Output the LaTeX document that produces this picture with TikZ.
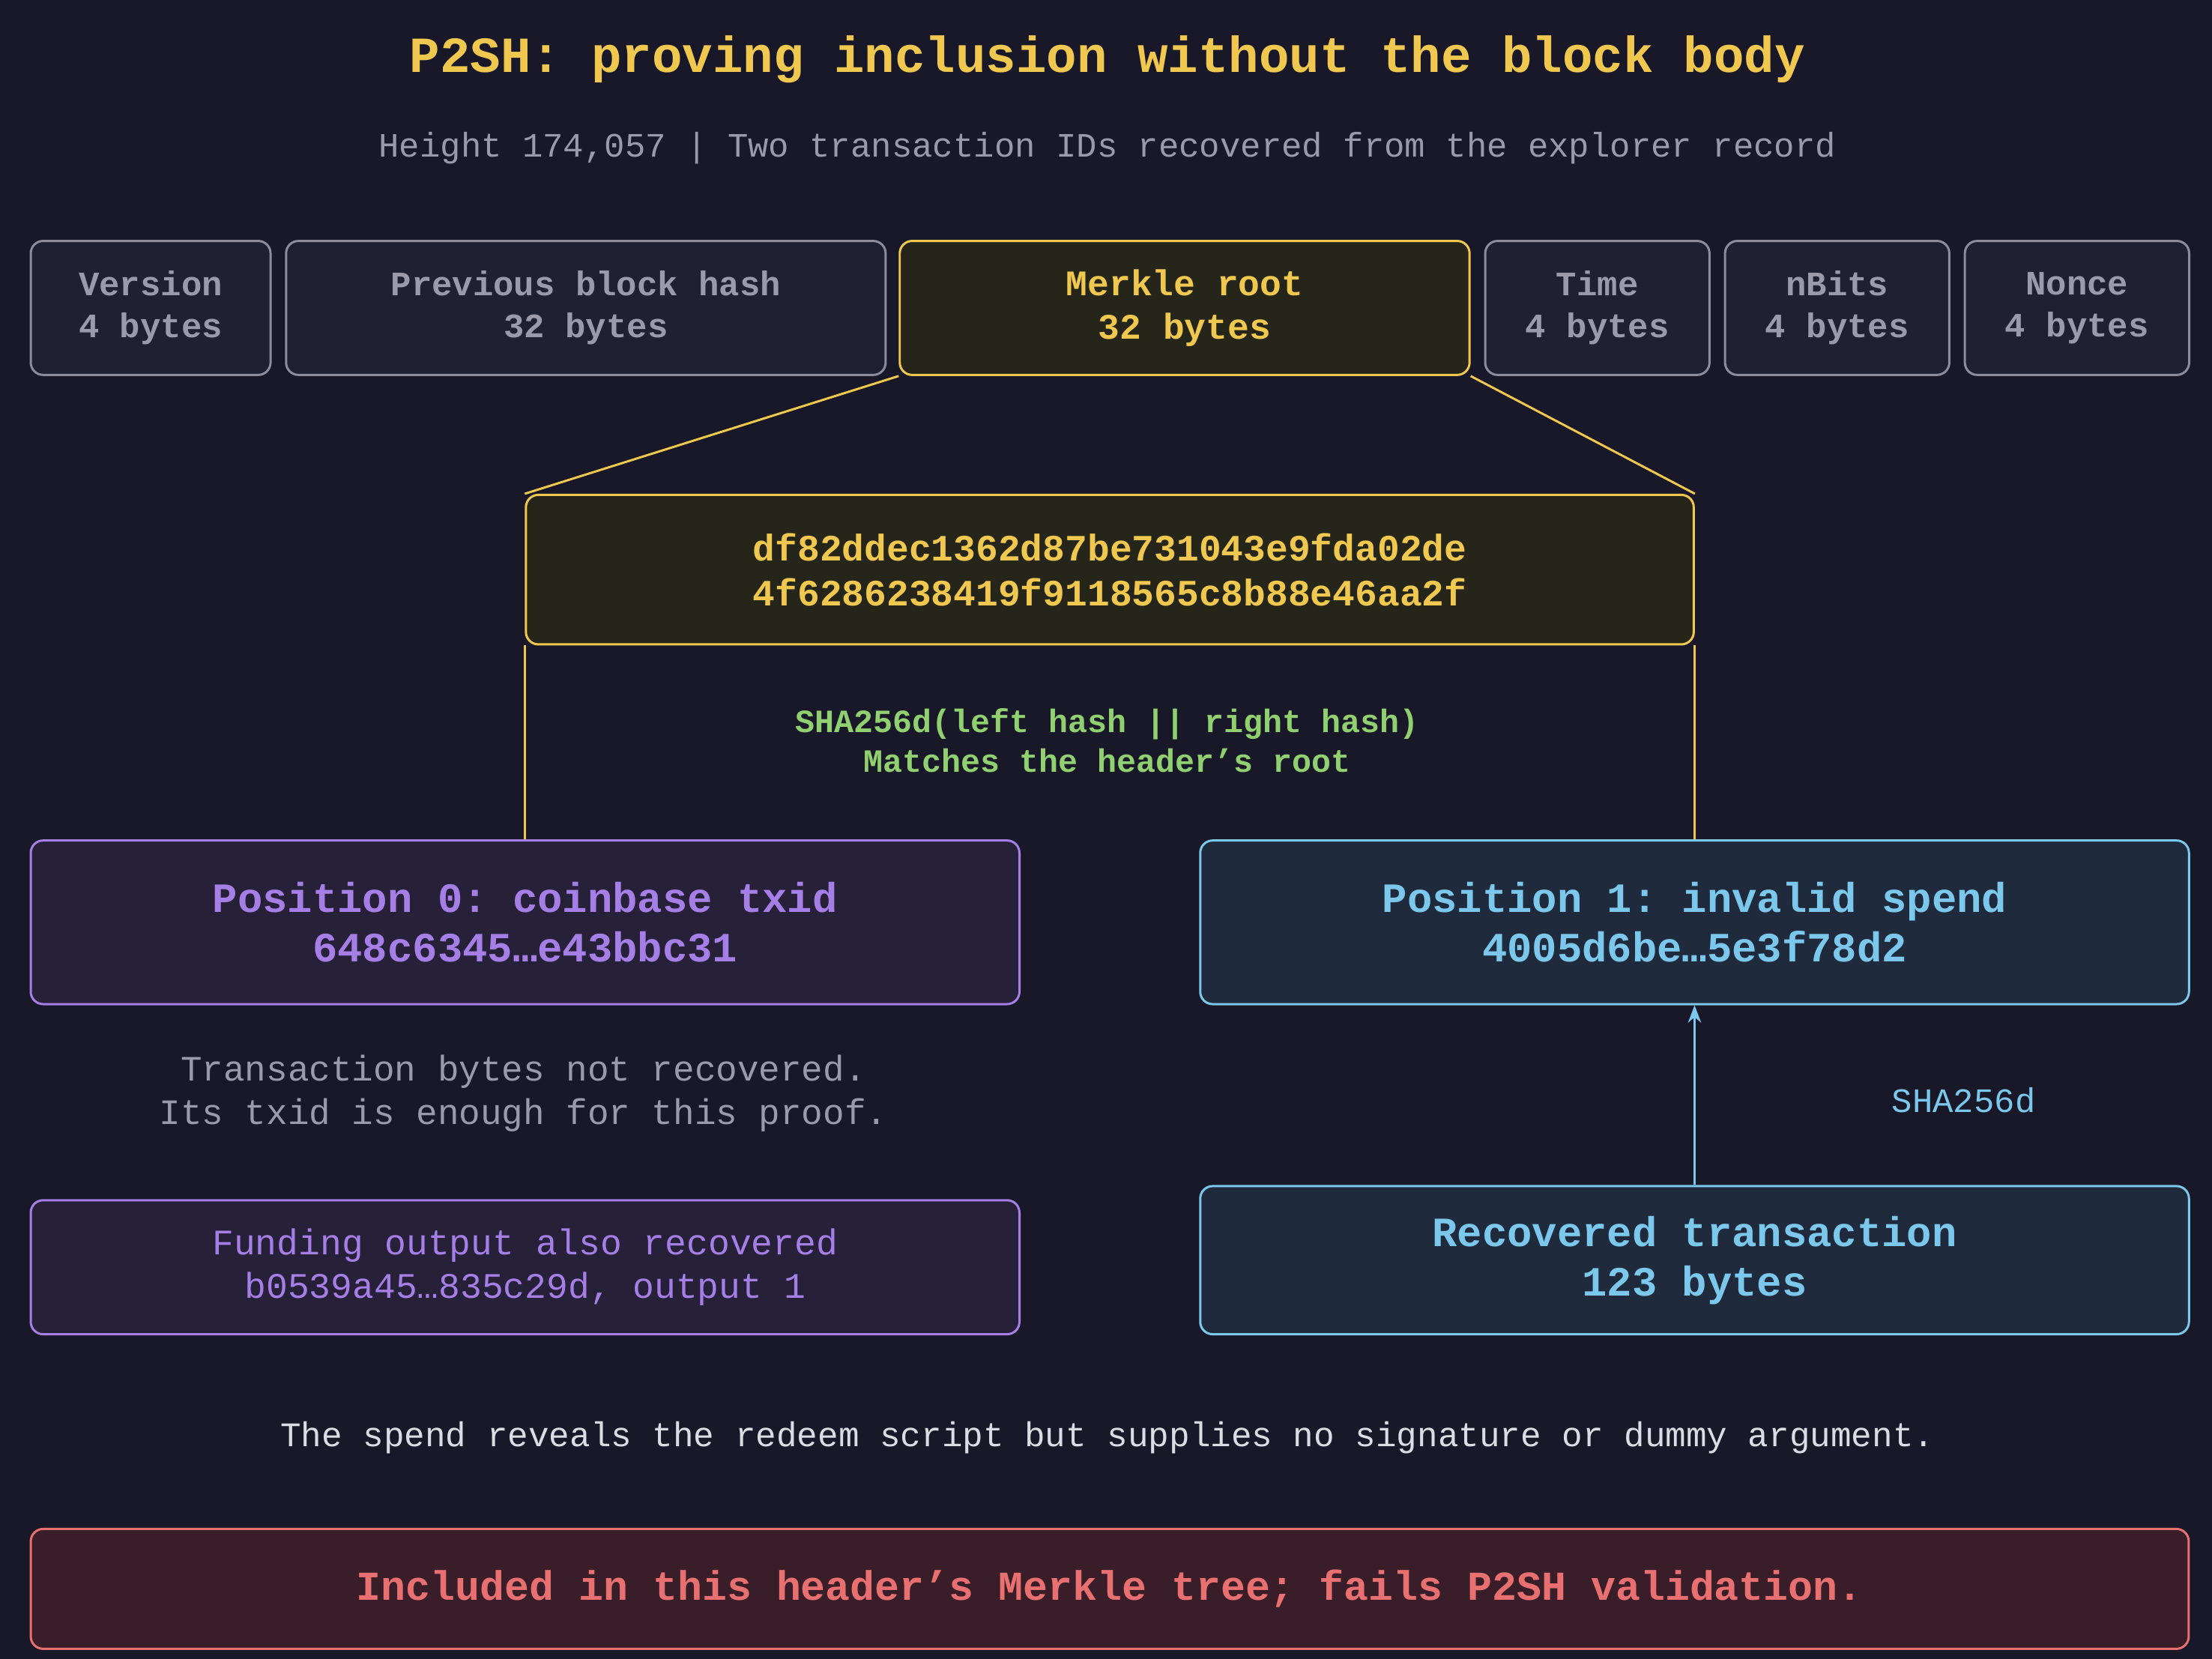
\documentclass[tikz,border=0pt]{standalone}
\usepackage{fontspec}
\setmonofont{Liberation Mono}
\usetikzlibrary{positioning, arrows.meta}
\definecolor{bgcol}{HTML}{181828}
\definecolor{fieldfill}{HTML}{1F2133}
\definecolor{fielddraw}{HTML}{8C8C9C}
\definecolor{gold}{HTML}{F0C850}
\definecolor{goldfill}{HTML}{25251A}
\definecolor{violet}{HTML}{A67FE6}
\definecolor{violetfill}{HTML}{262039}
\definecolor{sky}{HTML}{7CC8EC}
\definecolor{skyfill}{HTML}{1F2B3D}
\definecolor{alarm}{HTML}{E87070}
\definecolor{alarmfill}{HTML}{391E2A}
\definecolor{okgreen}{HTML}{90D070}
\definecolor{dimtext}{HTML}{9A9AAA}
\definecolor{plaintext}{HTML}{DCDCE4}
\begin{document}
\begin{tikzpicture}[
  x=0.02cm, y=-0.02cm,
  >=Stealth,
  every node/.style={font=\ttfamily, align=center, inner sep=0pt},
  box/.style={rounded corners=5pt, line width=0.9pt, anchor=north west},
  field/.style={box, draw=fielddraw, fill=fieldfill, text=dimtext, font=\ttfamily\bfseries\fontsize{13.8}{17}\selectfont},
  hilite/.style={box, draw=gold, fill=goldfill, text=gold},
  leftbox/.style={box, draw=violet, fill=violetfill, text=violet},
  rightbox/.style={box, draw=sky, fill=skyfill, text=sky},
  link/.style={gold, line width=0.9pt}
]
% Background
\fill[bgcol] (0,0) rectangle (1568,1176);
\useasboundingbox (0,0) rectangle (1568,1176);
% Title
\node[text=gold, font=\ttfamily\bfseries\fontsize{20.4}{24}\selectfont] (title) at (785,42) {P2SH: proving inclusion without the block body};
\node[text=dimtext, font=\ttfamily\fontsize{13.8}{17}\selectfont] (subtitle) at (785,105) {Height 174,057 | Two transaction IDs recovered from the explorer record};
% Header fields
\foreach \name/\xa/\xb/\txt in {ver/21/191/{Version\\4 bytes}, prev/202/627/{Previous block hash\\32 bytes}, time/1052/1211/{Time\\4 bytes}, bits/1222/1381/{nBits\\4 bytes}, nonce/1392/1551/{Nonce\\4 bytes}} {
  \node[field, minimum width=(\xb-\xa)*0.02cm, minimum height=1.9cm] (\name) at (\xa,170) {\txt};
}
\node[hilite, minimum width=8.08cm, minimum height=1.9cm, font=\ttfamily\bfseries\fontsize{14.5}{17.5}\selectfont] (root) at (637,170) {Merkle root\\32 bytes};
% Root hash
\node[hilite, minimum width=16.56cm, minimum height=2.12cm, font=\ttfamily\bfseries\fontsize{15}{18}\selectfont] (hash) at (372,350) {df82ddec1362d87be731043e9fda02de\\4f6286238419f9118565c8b88e46aa2f};
\draw[link] (root.south west) -- (hash.north west);
\draw[link] (root.south east) -- (hash.north east);
\node[text=okgreen, font=\ttfamily\bfseries\fontsize{13.1}{16}\selectfont] (combine) at (785,525) {SHA256d(left hash || right hash)\\Matches the header’s root};
% Leaves
\node[leftbox, minimum width=14.02cm, minimum height=2.32cm, font=\ttfamily\bfseries\fontsize{16.8}{20}\selectfont] (coinbase) at (21,595) {Position 0: coinbase txid\\648c6345…e43bbc31};
\node[rightbox, minimum width=14.02cm, minimum height=2.32cm, font=\ttfamily\bfseries\fontsize{16.8}{20}\selectfont] (spend) at (850,595) {Position 1: invalid spend\\4005d6be…5e3f78d2};
\draw[link] (hash.south west) -- (hash.south west |- coinbase.north);
\draw[link] (hash.south east) -- (hash.south east |- spend.north);
% Left column notes
\node[text=dimtext, font=\ttfamily\fontsize{14.4}{17.5}\selectfont] (note) at (371,775) {Transaction bytes not recovered.\\Its txid is enough for this proof.};
\node[leftbox, minimum width=14.02cm, minimum height=1.9cm, font=\ttfamily\fontsize{14.5}{17.5}\selectfont] (funding) at (21,850) {Funding output also recovered\\b0539a45…835c29d, output 1};
% Right column: raw transaction
\node[rightbox, minimum width=14.02cm, minimum height=2.1cm, font=\ttfamily\bfseries\fontsize{16.8}{20}\selectfont] (rawtx) at (850,840) {Recovered transaction\\123 bytes};
\draw[->, sky, line width=0.9pt] (rawtx.north) -- (spend.south);
\node[text=sky, font=\ttfamily\fontsize{13.8}{17}\selectfont] (hashlbl) at (1392,780) {SHA256d};
% Verdict
\node[text=plaintext, font=\ttfamily\fontsize{13.9}{17}\selectfont] (remark) at (785,1019) {The spend reveals the redeem script but supplies no signature or dummy argument.};
\node[box, draw=alarm, fill=alarmfill, text=alarm, minimum width=30.6cm, minimum height=1.7cm, font=\ttfamily\bfseries\fontsize{16.6}{20}\selectfont] (verdict) at (21,1083) {Included in this header’s Merkle tree; fails P2SH validation.};
\end{tikzpicture}
\end{document}
